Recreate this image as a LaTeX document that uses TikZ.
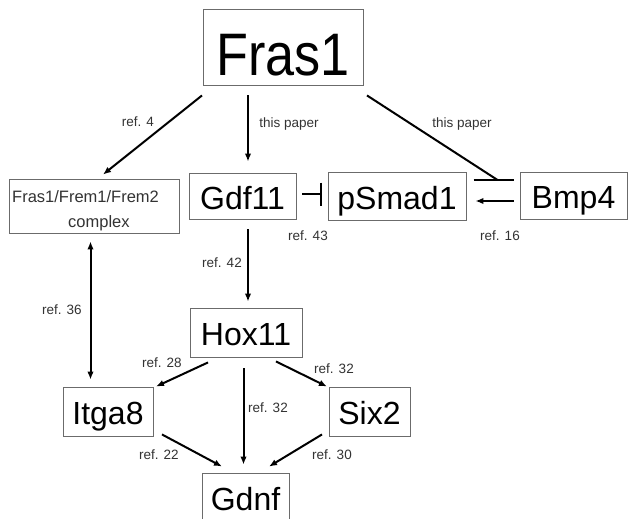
\documentclass[tikz,border=0pt]{standalone}
\usepackage{fontspec}
\usepackage{graphicx}
\setmainfont{Liberation Sans}
\usetikzlibrary{arrows.meta,calc}
\definecolor{boxgray}{gray}{0.42}
\definecolor{labgray}{gray}{0.2}
\tikzset{
  gene/.style={draw=boxgray, line width=0.9pt, rectangle, inner sep=0pt,
    font=\fontsize{32}{38}\selectfont, text height=26pt, text depth=0pt},
  bigbox/.style={draw=boxgray, line width=0.9pt, rectangle, inner sep=0pt,
    font=\fontsize{60}{70}\selectfont, text height=56pt, text depth=0pt},
  plainbox/.style={draw=boxgray, line width=0.9pt, rectangle, inner sep=0pt},
  boxtext/.style={font=\fontsize{16.5}{20}\selectfont, inner sep=0pt, anchor=base west, text=labgray},
  reflab/.style={font=\fontsize{13.5}{16}\selectfont, inner sep=0pt, text height=9.5pt, text depth=0pt, text=labgray},
  conn/.style={line width=2pt, black},
  arr/.style={conn, -{Latex[length=8pt,width=6.5pt]}},
  darr/.style={conn, {Latex[length=8pt,width=6.5pt]}-{Latex[length=8pt,width=6.5pt]}},
  inhib/.style={conn, -{Bar[width=23pt,line width=2pt]}},
}
\begin{document}
\begin{tikzpicture}[x=1pt,y=-1pt]
\fill[white] (0,0) rectangle (629,519);
\useasboundingbox (0,0) rectangle (629,519);

% nodes
\node[bigbox, minimum width=160pt, minimum height=76pt] (Fras1) at (283,47) {\scalebox{0.87}[1]{Fras1}};
\node[plainbox, minimum width=170pt, minimum height=54pt] (Frem) at (94,206) {};
\node[boxtext] (fremA) at (12,202) {Fras1/Frem1/Frem2};
\node[boxtext] (fremB) at (68,227) {complex};
\node[gene, minimum width=107pt, minimum height=46pt] (Gdf11) at (242.5,196) {Gdf11};
\node[gene, minimum width=138pt, minimum height=48pt] (pSmad1) at (397,196) {pSmad1};
\node[gene, minimum width=107pt, minimum height=47pt] (Bmp4) at (573.5,195.5) {Bmp4};
\node[gene, minimum width=112pt, minimum height=49pt] (Hox11) at (246,332.5) {Hox11};
\node[gene, minimum width=90pt, minimum height=49pt] (Itga8) at (108,411.5) {Itga8};
\node[gene, minimum width=81pt, minimum height=49pt] (Six2) at (369.5,411.5) {Six2};
\node[gene, minimum width=87pt, minimum height=48pt] (Gdnf) at (245.5,497) {Gdnf};

% connectors
\draw[arr] ($(Fras1.south)+(-81,10)$) -- ($(Frem.north)+(9,-4)$);
\draw[arr] ($(Fras1.south)+(-35,10)$) -- ($(Gdf11.north)+(5.5,-11)$);
\coordinate (barT) at ($(Bmp4.west)+(-26,-15.5)$);
\draw[conn] ($(Fras1.south)+(84,10)$) -- ($(barT)+(4,0)$);
\draw[conn] ($(barT)+(-20,0)$) -- ($(barT)+(20,0)$);
\draw[inhib] ($(Gdf11.east)+(6,-2)$) -- ($(pSmad1.west)+(-6,-2)$);
\draw[arr] ($(Bmp4.west)+(-6,5.5)$) -- ($(pSmad1.east)+(9,5)$);
\draw[arr] ($(Gdf11.south)+(5.5,10)$) -- ($(Hox11.north)+(2,-6)$);
\draw[darr] ($(Frem.south)+(-3.5,8)$) -- ($(Itga8.north)+(-17.5,-7)$);
\draw[arr] ($(Hox11.south)+(-38,5)$) -- ($(Itga8.north)+(48,0)$);
\draw[arr] ($(Hox11.south)+(30,4)$) -- ($(Six2.north)+(-42.5,0)$);
\draw[arr] ($(Hox11.south)+(-2.5,11)$) -- ($(Gdnf.north)+(-2,-8)$);
\draw[arr] ($(Itga8.south)+(54,-2)$) -- ($(Gdnf.north)+(-23.5,-6)$);
\draw[arr] ($(Six2.south)+(-47.5,-2)$) -- ($(Gdnf.north)+(23.5,-6)$);

% labels
\node[reflab] (l1) at (138,122) {ref. 4};
\node[reflab] (l2) at (289,123) {this paper};
\node[reflab] (l3) at (462,123) {this paper};
\node[reflab] (l4) at (308,236) {ref. 43};
\node[reflab] (l5) at (500,236) {ref. 16};
\node[reflab] (l6) at (222,263) {ref. 42};
\node[reflab] (l7) at (62,310) {ref. 36};
\node[reflab] (l8) at (162,363) {ref. 28};
\node[reflab] (l9) at (334,369) {ref. 32};
\node[reflab] (l10) at (268,408) {ref. 32};
\node[reflab] (l11) at (159,455) {ref. 22};
\node[reflab] (l12) at (332,455) {ref. 30};
\end{tikzpicture}
\end{document}
